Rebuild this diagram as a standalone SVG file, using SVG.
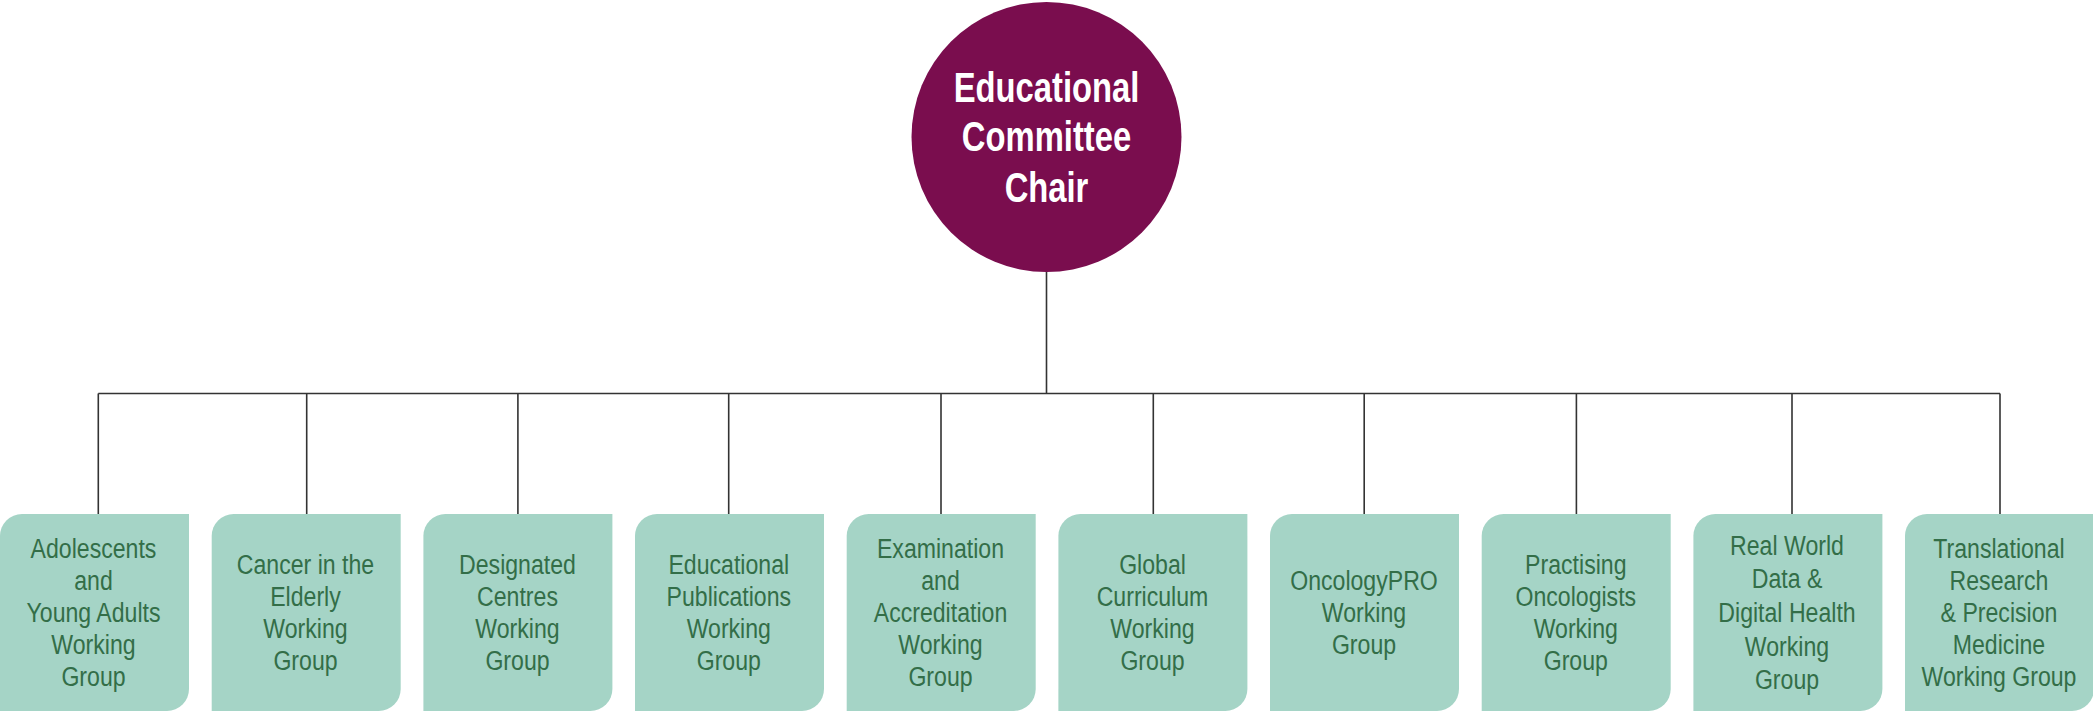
<svg xmlns="http://www.w3.org/2000/svg" xmlns:xlink="http://www.w3.org/1999/xlink" width="2093" height="711" viewBox="0 0 2093 711">
<style>
.conn{stroke:#333;stroke-width:1.6;fill:none}
.box{fill:#a5d4c6}
.bt{font-family:"Liberation Sans",Arial,sans-serif;font-size:28px;fill:#336e48;text-anchor:middle}
.ct{font-family:"Liberation Sans",Arial,sans-serif;font-size:42px;font-weight:bold;fill:#fff;text-anchor:middle}
</style>
<defs>
<path id="card" d="M22,0 H189 V175 A22,22 0 0 1 167,197 H0 V22 A22,22 0 0 1 22,0 Z"/>
</defs>
<g id="connectors">
<path class="conn" d="M1046.5,271 V393.5 M98.3,393.5 H2000 M98.3,393.5 V514 M306.7,393.5 V514 M517.9,393.5 V514 M728.7,393.5 V514 M941,393.5 V514 M1153.3,393.5 V514 M1364.2,393.5 V514 M1576.4,393.5 V514 M1792,393.5 V514 M2000,393.5 V514"/>
</g>
<g id="chair">
<circle cx="1046.5" cy="137" r="135" fill="#7a0d4e"/>
<g transform="translate(1046.5 0) scale(0.78 1)">
<text class="ct" x="0" y="101.7">Educational</text>
<text class="ct" x="0" y="151">Committee</text>
<text class="ct" x="0" y="202.5">Chair</text>
</g>
</g>
<g id="wg1">
<use xlink:href="#card" class="box" x="0" y="514"/>
<g transform="translate(93.5 0) scale(0.825 1)">
<text class="bt" x="0" y="558">Adolescents</text>
<text class="bt" x="0" y="590">and</text>
<text class="bt" x="0" y="622">Young Adults</text>
<text class="bt" x="0" y="654">Working</text>
<text class="bt" x="0" y="686">Group</text>
</g>
</g>
<g id="wg2">
<use xlink:href="#card" class="box" x="211.7" y="514"/>
<g transform="translate(305.5 0) scale(0.825 1)">
<text class="bt" x="0" y="574">Cancer in the</text>
<text class="bt" x="0" y="606">Elderly</text>
<text class="bt" x="0" y="638">Working</text>
<text class="bt" x="0" y="670">Group</text>
</g>
</g>
<g id="wg3">
<use xlink:href="#card" class="box" x="423.4" y="514"/>
<g transform="translate(517.5 0) scale(0.825 1)">
<text class="bt" x="0" y="574">Designated</text>
<text class="bt" x="0" y="606">Centres</text>
<text class="bt" x="0" y="638">Working</text>
<text class="bt" x="0" y="670">Group</text>
</g>
</g>
<g id="wg4">
<use xlink:href="#card" class="box" x="635" y="514"/>
<g transform="translate(728.8 0) scale(0.825 1)">
<text class="bt" x="0" y="574">Educational</text>
<text class="bt" x="0" y="606">Publications</text>
<text class="bt" x="0" y="638">Working</text>
<text class="bt" x="0" y="670">Group</text>
</g>
</g>
<g id="wg5">
<use xlink:href="#card" class="box" x="846.7" y="514"/>
<g transform="translate(940.5 0) scale(0.825 1)">
<text class="bt" x="0" y="558">Examination</text>
<text class="bt" x="0" y="590">and</text>
<text class="bt" x="0" y="622">Accreditation</text>
<text class="bt" x="0" y="654">Working</text>
<text class="bt" x="0" y="686">Group</text>
</g>
</g>
<g id="wg6">
<use xlink:href="#card" class="box" x="1058.4" y="514"/>
<g transform="translate(1152.5 0) scale(0.825 1)">
<text class="bt" x="0" y="574">Global</text>
<text class="bt" x="0" y="606">Curriculum</text>
<text class="bt" x="0" y="638">Working</text>
<text class="bt" x="0" y="670">Group</text>
</g>
</g>
<g id="wg7">
<use xlink:href="#card" class="box" x="1270" y="514"/>
<g transform="translate(1364 0) scale(0.825 1)">
<text class="bt" x="0" y="590">OncologyPRO</text>
<text class="bt" x="0" y="622">Working</text>
<text class="bt" x="0" y="654">Group</text>
</g>
</g>
<g id="wg8">
<use xlink:href="#card" class="box" x="1481.7" y="514"/>
<g transform="translate(1575.8 0) scale(0.825 1)">
<text class="bt" x="0" y="574">Practising</text>
<text class="bt" x="0" y="606">Oncologists</text>
<text class="bt" x="0" y="638">Working</text>
<text class="bt" x="0" y="670">Group</text>
</g>
</g>
<g id="wg9">
<use xlink:href="#card" class="box" x="1693.4" y="514"/>
<g transform="translate(1787 0) scale(0.825 1)">
<text class="bt" x="0" y="555">Real World</text>
<text class="bt" x="0" y="588">Data &amp;</text>
<text class="bt" x="0" y="622">Digital Health</text>
<text class="bt" x="0" y="656">Working</text>
<text class="bt" x="0" y="689">Group</text>
</g>
</g>
<g id="wg10">
<use xlink:href="#card" class="box" x="1905" y="514"/>
<g transform="translate(1999 0) scale(0.825 1)">
<text class="bt" x="0" y="558">Translational</text>
<text class="bt" x="0" y="590">Research</text>
<text class="bt" x="0" y="622">&amp; Precision</text>
<text class="bt" x="0" y="654">Medicine</text>
<text class="bt" x="0" y="686">Working Group</text>
</g>
</g>
</svg>
